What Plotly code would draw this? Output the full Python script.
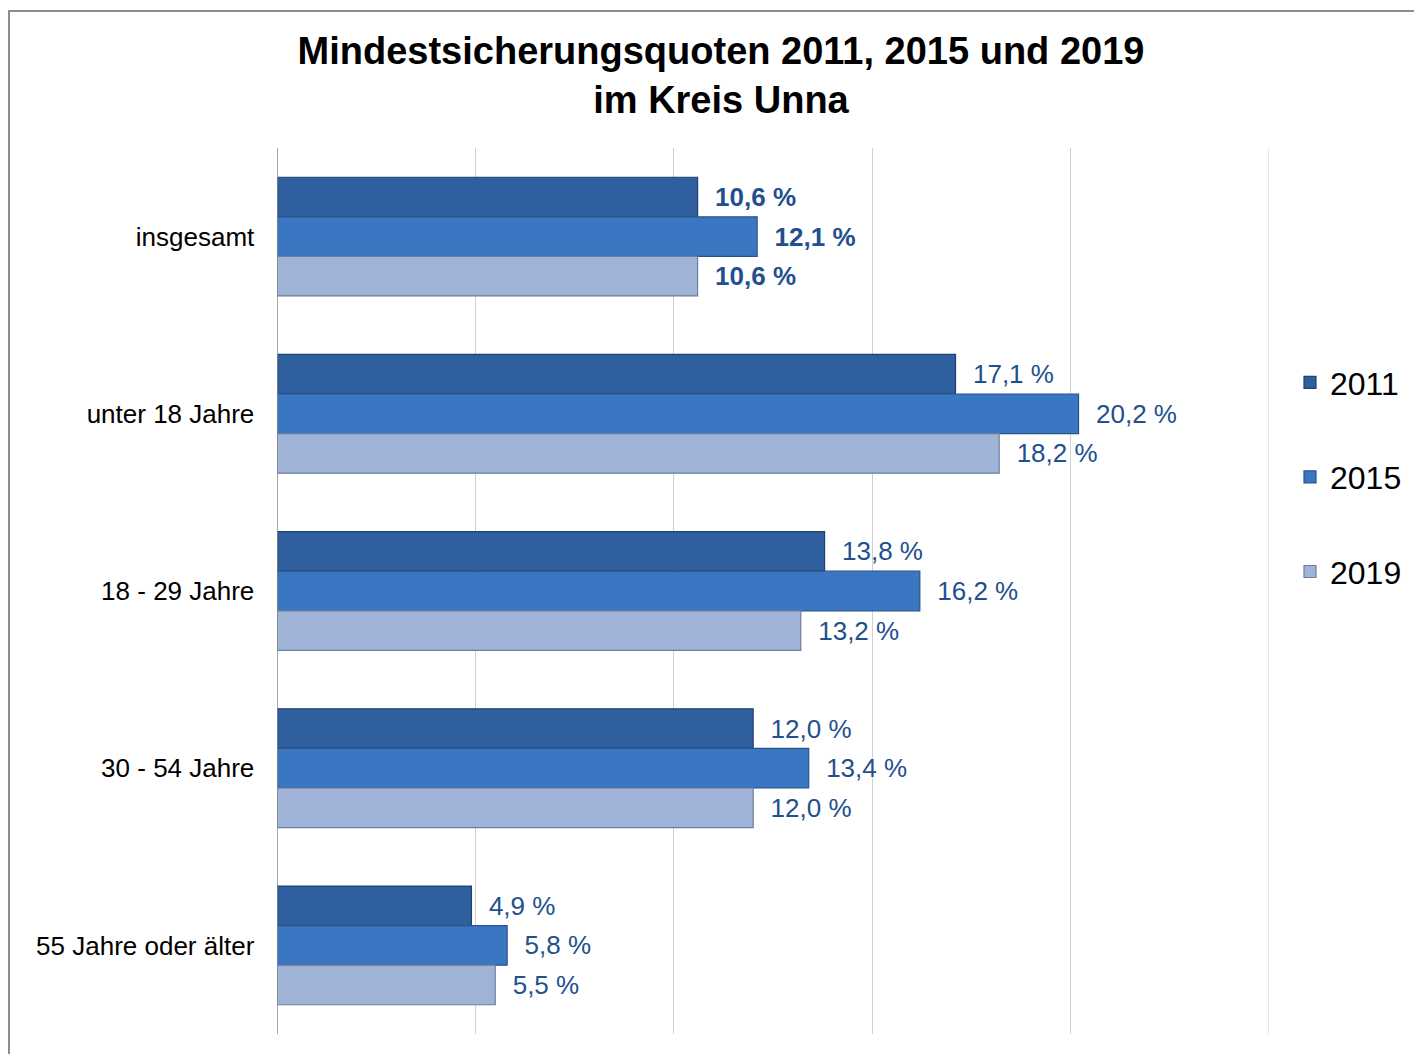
import plotly.graph_objects as go

categories = ["insgesamt", "unter 18 Jahre", "18 - 29 Jahre", "30 - 54 Jahre", "55 Jahre oder älter"]
years = ["2011", "2015", "2019"]
values_2011 = [10.6, 17.1, 13.8, 12.0, 4.9]
values_2015 = [12.1, 20.2, 16.2, 13.4, 5.8]
values_2019 = [10.6, 18.2, 13.2, 12.0, 5.5]
series = [values_2011, values_2015, values_2019]
colors = ["#2f5f9f", "#3b76c2", "#9fb3d7"]
line_colors = ["#1f426f", "#285489", "#6d7f9f"]
x_max = 25

O = 8  # page body margin
W, H = 1422 - O, 1054 - O
# target positions in screenshot pixels
L, R, T, B = 277, 1269, 148, 1034
PW, PH = R - L, B - T

fig = go.Figure()
for name, vals, c, lc in zip(years, series, colors, line_colors):
    texts = []
    for i, v in enumerate(vals):
        s = f"{v:.1f}".replace(".", ",") + " %"
        if i == 0:
            s = f"<b>{s}</b>"
        texts.append("  " + s)
    fig.add_trace(go.Bar(
        name=name, y=categories, x=vals, orientation="h",
        marker=dict(color=c, line=dict(color=lc, width=1.2)),
        text=texts, textposition="outside", cliponaxis=False,
        textfont=dict(family="Arial, Liberation Sans", size=26, color="#22508e"),
        legendgroup=name,
    ))

fig.update_layout(
    width=W, height=H,
    margin=dict(l=L - O, r=(W + O) - R, t=T - O, b=(H + O) - B),
    paper_bgcolor="white", plot_bgcolor="white",
    barmode="group", bargap=0.33, bargroupgap=0,
    title=dict(
        text="<b>Mindestsicherungsquoten 2011, 2015 und 2019<br>im Kreis Unna</b>",
        x=(721 - O) / W, xanchor="center", yref="container", y=1 - 56 / H, yanchor="top",
        font=dict(family="Arial, Liberation Sans", size=38, color="black"),
    ),
    xaxis=dict(range=[0, x_max], dtick=5, showgrid=True, gridcolor="#d0d0d0", gridwidth=1,
               showticklabels=False, zeroline=False, showline=False, ticks=""),
    yaxis=dict(autorange="reversed", showgrid=False, showline=False, ticks="",
               ticksuffix="   ",
               tickfont=dict(family="Arial, Liberation Sans", size=26, color="black")),
    legend=dict(x=(1290 - L) / PW, y=1 - (355 - T) / PH, xanchor="left", yanchor="top",
                font=dict(family="Arial, Liberation Sans", size=32, color="black"),
                tracegroupgap=50, traceorder="grouped", bgcolor="rgba(0,0,0,0)"),
    showlegend=True,
)

# last gridline at the end of the range
fig.add_shape(type="line", xref="x", yref="paper", x0=x_max, x1=x_max, y0=0, y1=1,
              line=dict(color="#d0d0d0", width=1), layer="below")
# axis line at zero
fig.add_shape(type="line", xref="x", yref="paper", x0=0, x1=0, y0=0, y1=1,
              line=dict(color="#8a8a8a", width=1.5))
# outer frame
fig.add_shape(type="rect", xref="paper", yref="paper",
              x0=(9 - L) / PW, x1=(1440 - L) / PW,
              y0=1 - (1080 - T) / PH, y1=1 + (T - 11) / PH,
              line=dict(color="#8c8c8c", width=2), fillcolor="rgba(0,0,0,0)", layer="below")

fig.write_html("out.html")
